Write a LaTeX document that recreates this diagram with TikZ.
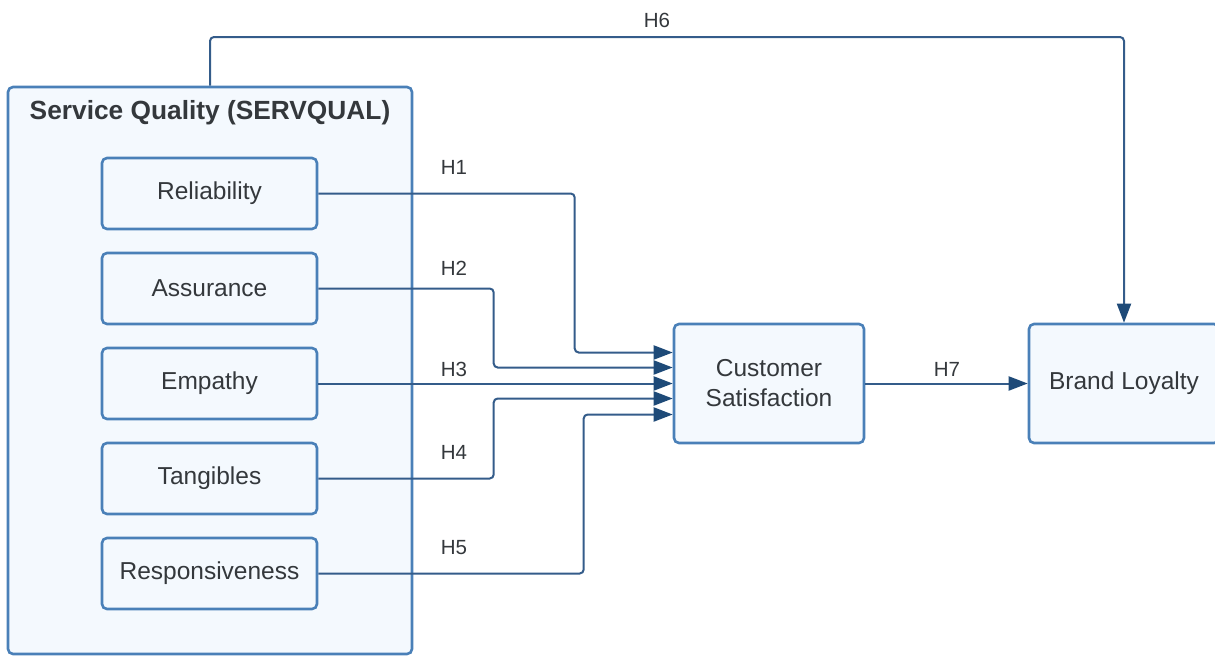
\documentclass[tikz,border=0pt]{standalone}
\usepackage{fontspec}
\setmainfont{Liberation Sans}
\usetikzlibrary{arrows.meta}
\definecolor{boxline}{RGB}{74,128,184}
\definecolor{boxfill}{RGB}{244,249,254}
\definecolor{connline}{RGB}{52,92,138}
\definecolor{tipfill}{RGB}{30,74,120}
\definecolor{txt}{RGB}{52,56,60}
\tikzset{
  box/.style={draw=boxline, fill=boxfill, line width=2.6pt, rounded corners=5pt,
    text=txt, align=center, inner sep=0pt,
    font=\fontsize{24.5}{30}\selectfont},
  dimbox/.style={box, minimum width=215pt, minimum height=71pt},
  bigbox/.style={box, minimum width=190pt, minimum height=119pt},
  conn/.style={draw=connline, line width=2pt, rounded corners=4pt,
    -{Triangle[length=19pt,width=14pt,color=tipfill]}},
  hlabel/.style={text=txt, font=\fontsize{20.5}{24}\selectfont, inner sep=0pt}
}
\begin{document}
\begin{tikzpicture}[x=1pt,y=-1pt]
\useasboundingbox (0,0) rectangle (1215,656);

% service quality container
\node[box, minimum width=404pt, minimum height=567pt] (sq) at (210,370.5) {};
\node[text=txt, font=\fontsize{26.3}{30}\selectfont\bfseries] (title) at (210,113) {Service Quality (SERVQUAL)};

% the five dimensions
\node[dimbox] (rel)  at (209.5,193.5) {Reliability};
\node[dimbox] (asr)  at (209.5,288.5) {Assurance};
\node[dimbox] (emp)  at (209.5,383.5) {Empathy};
\node[dimbox] (tan)  at (209.5,478.5) {Tangibles};
\node[dimbox] (resp) at (209.5,573.5) {Responsiveness};

% outcomes
\node[bigbox] (cs) at (769,383.5) {Customer\\Satisfaction};
\node[bigbox] (bl) at (1124,383.5) {Brand Loyalty};

% hypotheses H1-H5 into customer satisfaction
\draw[conn] (rel.east)  -| ([xshift=-98pt,yshift=31pt]cs.west)  -- ([yshift=31pt]cs.west);
\draw[conn] (asr.east)  -| ([xshift=-179pt,yshift=16pt]cs.west) -- ([yshift=16pt]cs.west);
\draw[conn] (emp.east)  -- (cs.west);
\draw[conn] (tan.east)  -| ([xshift=-179pt,yshift=-15pt]cs.west) -- ([yshift=-15pt]cs.west);
\draw[conn] (resp.east) -| ([xshift=-89pt,yshift=-31pt]cs.west)  -- ([yshift=-31pt]cs.west);

% H6: service quality straight to brand loyalty
\coordinate (h6top) at (660,37);
\draw[conn] (sq.north) |- (h6top) -| (bl.north);

% H7
\draw[conn] (cs.east) -- (bl.west);

% hypothesis labels
\node[hlabel] (l1) at (454,167) {H1};
\node[hlabel] (l2) at (454,268) {H2};
\node[hlabel] (l3) at (454,369) {H3};
\node[hlabel] (l4) at (454,452) {H4};
\node[hlabel] (l5) at (454,548) {H5};
\node[hlabel] (l6) at (657,20) {H6};
\node[hlabel] (l7) at (947,369) {H7};
\end{tikzpicture}
\end{document}
